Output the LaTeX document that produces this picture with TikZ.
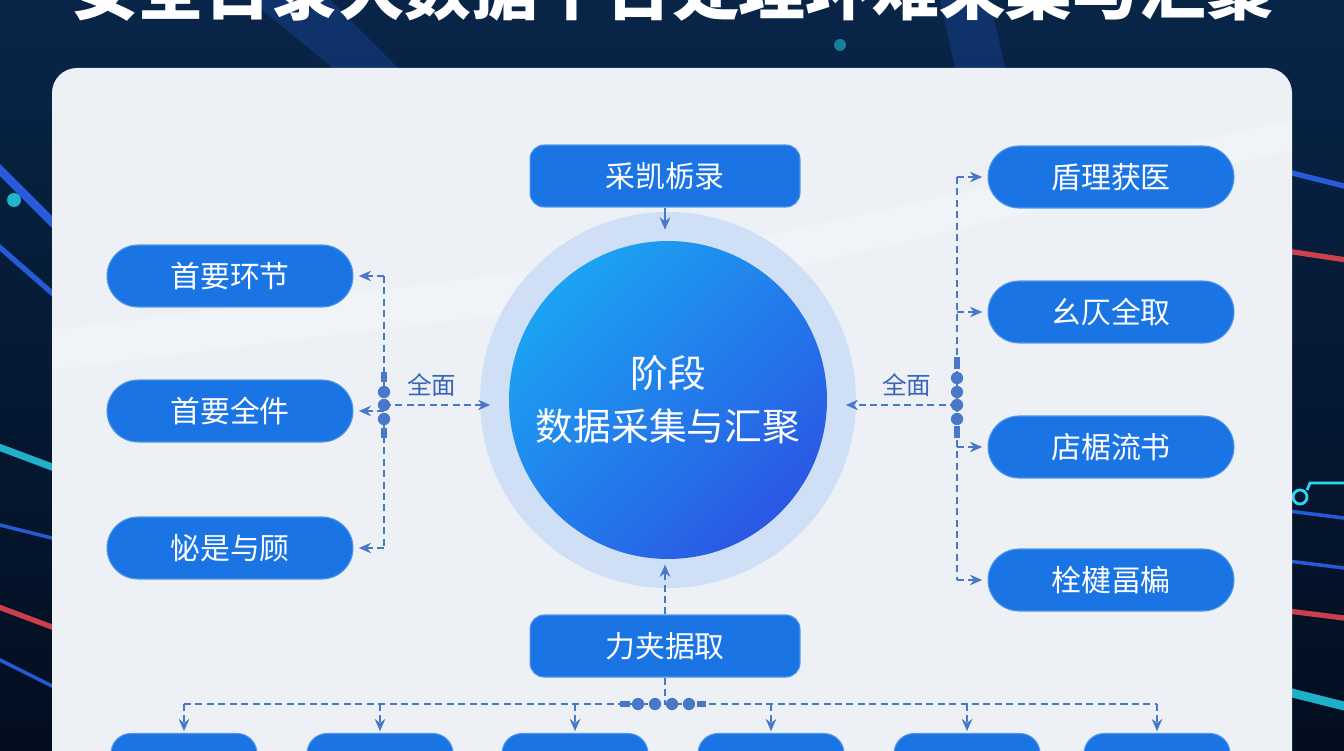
\documentclass[tikz,border=0pt]{standalone}
\usepackage{fontspec}
\newfontfamily\cjk{Noto Sans CJK SC}
\usetikzlibrary{arrows.meta,positioning,shapes.misc}

\definecolor{navy}{HTML}{030E20}
\definecolor{navytop}{HTML}{082548}
\definecolor{panel}{HTML}{EDF1F6}
\definecolor{boxblue}{HTML}{1A74E4}
\definecolor{boxedge}{HTML}{4E97EE}
\definecolor{halo}{HTML}{CFE0F6}
\definecolor{ballA}{HTML}{1BA3F2}
\definecolor{ballB}{HTML}{2A58E4}
\definecolor{linkblue}{HTML}{4A78C8}
\definecolor{labelblue}{HTML}{3A66B6}
\definecolor{glowblue}{HTML}{2F6BFF}
\definecolor{glowcyan}{HTML}{27D8F0}
\definecolor{glowred}{HTML}{FF4A55}

\tikzset{
  pillbox/.style={rectangle, rounded corners=0.62cm, fill=boxblue, draw=boxedge, line width=0.6pt,
    minimum width=4.92cm, minimum height=1.24cm, text=white, font=\cjk\fontsize{17}{20}\selectfont},
  flatbox/.style={rectangle, rounded corners=0.28cm, fill=boxblue, draw=boxedge, line width=0.6pt,
    minimum width=5.4cm, minimum height=1.24cm, text=white, font=\cjk\fontsize{17}{20}\selectfont},
  footbox/.style={rectangle, rounded corners=0.4cm, fill=boxblue, draw=boxedge, line width=0.6pt,
    minimum width=2.92cm, minimum height=1.3cm},
  dashline/.style={draw=linkblue, line width=0.9pt, dash pattern=on 4pt off 2.5pt},
  dasharrow/.style={dashline, -{Stealth[length=7pt,width=6pt]}, shorten >=3pt},
  solidarrow/.style={draw=linkblue, line width=1pt, -{Stealth[length=7pt,width=6pt]}},
  linklabel/.style={text=labelblue, font=\cjk\fontsize{14}{16}\selectfont},
  busdot/.style={circle, fill=linkblue, inner sep=0pt, minimum size=7pt},
  glow/.style={line width=#1, line cap=round},
}

\begin{document}
\begin{tikzpicture}[x=0.02cm, y=-0.02cm]
  \useasboundingbox (0,0) rectangle (1344,750);
  \clip (0,0) rectangle (1344,750);

  % Draw the dark background with its glowing streaks
  \fill[top color=navytop, bottom color=navy] (0,0) rectangle (1344,750);
  \fill[glowblue, opacity=0.2] (250,0) -- (330,0) -- (420,90) -- (360,90) -- cycle;
  \fill[glowblue, opacity=0.2] (940,0) -- (990,0) -- (1010,90) -- (960,90) -- cycle;
  \fill[glowcyan, opacity=0.5] (840,45) circle (6);
  \foreach \ya/\yb/\c/\w in {150/230/glowblue/5pt, 230/300/glowblue/3pt, 440/470/glowcyan/4pt,
      520/540/glowblue/2pt, 600/630/glowred/3pt, 650/690/glowblue/2pt}
    \draw[glow=\w, \c, opacity=0.8] (-20,\ya) -- (60,\yb);
  \fill[glowcyan, opacity=0.8] (14,200) circle (7);
  \foreach \ya/\yb/\c/\w in {510/520/glowblue/2pt, 560/570/glowblue/2pt, 610/620/glowred/3pt,
      690/710/glowcyan/5pt, 170/190/glowblue/3pt, 250/262/glowred/3pt}
    \draw[glow=\w, \c, opacity=0.8] (1280,\ya) -- (1360,\yb);
  \draw[glowcyan, line width=1.6pt] (1300,497) circle (7) (1307,490) -- (1310,483) -- (1344,483);

  % Draw the title, cut by the top edge
  \node[anchor=base, text=white, font=\cjk\bfseries\fontsize{38}{40}\selectfont] (title) at (672,15)
    {安全日录大数据平台处理环难采集与汇聚};

  % Draw the light panel
  \fill[panel, rounded corners=0.5cm] (52,68) rectangle (1292,820);
  \fill[white, opacity=0.18] (52,330) -- (700,250) -- (1292,120) -- (1292,150) -- (700,290) -- (52,370) -- cycle;

  % Draw the centre circle
  \node[circle, fill=halo, minimum size=7.52cm] (halo) at (668,400) {};
  \node[circle, top color=ballA, bottom color=ballB, shading angle=45, minimum size=6.36cm,
    text=white, align=center, font=\cjk\fontsize{21.5}{30}\selectfont] (core) at (668,400)
    {阶段\\数据采集与汇聚};

  % Draw the boxes above and below the circle
  \node[flatbox] (topbox) at (665,176) {采凯栃录};
  \node[flatbox] (basebox) at (665,646) {力夹据取};

  % Draw the boxes on the left
  \node[pillbox] (left1) at (230,276) {首要环节};
  \node[pillbox] (left2) at (230,411) {首要全件};
  \node[pillbox] (left3) at (230,548) {怭是与顾};

  % Draw the boxes on the right
  \node[pillbox] (right1) at (1111,177) {盾理获医};
  \node[pillbox] (right2) at (1111,312) {幺仄全取};
  \node[pillbox] (right3) at (1111,447) {店椐流书};
  \node[pillbox] (right4) at (1111,580) {栓楗畐楄};

  % Draw the row of boxes at the foot
  \foreach \i/\x in {1/184, 2/380, 3/575, 4/771, 5/967, 6/1157}
    \node[footbox] (foot\i) at (\x,766) {};

  % Draw the links above and below the circle
  \draw[solidarrow] (topbox.south) -- (topbox.south |- core.north) [shorten >=0.22cm];
  \draw[dasharrow] (basebox.north) -- (basebox.north |- core.south);

  % Draw the left bus and its links
  \coordinate (leftbus) at (384,405);
  \draw[dashline] (leftbus |- left1) -- (leftbus |- left3);
  \foreach \n in {left1, left2, left3}
    \draw[dasharrow] (leftbus |- \n) -- (\n.east);
  \draw[dasharrow, shorten >=-6pt] (leftbus) -- (leftbus -| halo.west)
    node[linklabel, midway, above=1pt] (leftlabel) {全面};
  \foreach \y in {392, 405, 419}
    \node[busdot] at (384,\y) {};
  \draw[linkblue, line width=3pt] (384,372) -- (384,382) (384,428) -- (384,438);

  % Draw the right bus and its links
  \coordinate (rightbus) at (957,405);
  \draw[dashline] (rightbus |- right1) -- (rightbus |- right4);
  \foreach \n in {right1, right2, right3, right4}
    \draw[dasharrow] (rightbus |- \n) -- (\n.west);
  \draw[dasharrow, shorten >=-6pt] (rightbus) -- (rightbus -| halo.east)
    node[linklabel, midway, above=1pt] (rightlabel) {全面};
  \foreach \y in {378, 392, 405, 419}
    \node[busdot] at (957,\y) {};
  \draw[linkblue, line width=3pt] (957,357) -- (957,369) (957,426) -- (957,438);

  % Draw the bottom bus and its links
  \coordinate (footbus) at (665,704);
  \draw[dashline] (basebox.south) -- (footbus);
  \draw[dashline] (foot1.north |- footbus) -- (foot6.north |- footbus);
  \foreach \i in {1,...,6}
    \draw[dasharrow, shorten >=1pt] (foot\i.north |- footbus) -- (foot\i.north);
  \foreach \x in {638, 655, 672, 689}
    \node[busdot] at (\x,704) {};
  \draw[linkblue, line width=3pt] (620,704) -- (630,704) (697,704) -- (706,704);
\end{tikzpicture}
\end{document}
